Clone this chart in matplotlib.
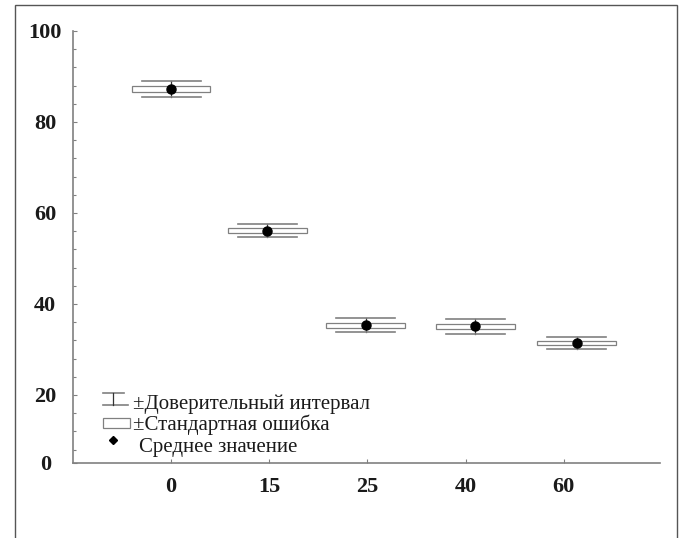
import numpy as np
import matplotlib
matplotlib.use("Agg")
import matplotlib.pyplot as plt
from matplotlib.patches import Rectangle

# data
groups = ["0", "15", "25", "40", "60"]
means = [87.3, 56.1, 35.3, 35.1, 31.4]
std_err = [0.7, 0.6, 0.55, 0.5, 0.5]
conf_int = [1.7, 1.45, 1.55, 1.6, 1.4]
# the last two points sit a bit right of their ticks in the original
x_shift = [0.0, -0.02, -0.02, 0.1, 0.13]

legend_labels = ["\u00b1Доверительный интервал", "\u00b1Стандартная ошибка", "Среднее значение"]

line_gray = "#808080"
text_col = "#1a1a1a"
serif = ["Liberation Serif", "DejaVu Serif"]

fig = plt.figure(figsize=(6.8, 5.38), dpi=100)
ax = fig.add_axes([73 / 680, 1 - 463 / 538, 587 / 680, 432 / 538])

# outer frame round the whole picture
fig.patches.append(Rectangle((15 / 680, -0.1), 662 / 680, 1.1 - 5 / 538,
                             transform=fig.transFigure, fill=False,
                             edgecolor="#555555", linewidth=1.0))

xpos = np.arange(1, len(groups) + 1) + np.array(x_shift)
box_w = 0.8
ci_w = 0.6

for x, m, se, ci in zip(xpos, means, std_err, conf_int):
    # whisker through the mean
    ax.plot([x, x], [m - ci, m + ci], color="#333333", lw=0.9, zorder=2)
    # confidence interval bars
    ax.plot([x - ci_w / 2, x + ci_w / 2], [m + ci, m + ci], color=line_gray, lw=1.2, zorder=2)
    ax.plot([x - ci_w / 2, x + ci_w / 2], [m - ci, m - ci], color=line_gray, lw=1.2, zorder=2)
    # standard error box
    ax.add_patch(Rectangle((x - box_w / 2, m - se), box_w, 2 * se, facecolor="white",
                           edgecolor=line_gray, lw=0.9, zorder=3))
ax.plot(xpos, means, "o", color="black", ms=6.5, zorder=4, linestyle="none")

ax.set_xlim(0, 5.98)
ax.set_ylim(5.05, 100)

ax.set_xticks(np.arange(1, len(groups) + 1))
ax.set_xticklabels(groups)
ax.set_yticks([5.05, 20, 40, 60, 80, 100])
ax.set_yticklabels(["0", "20", "40", "60", "80", "100"])
ax.set_yticks(np.arange(8, 100, 4), minor=True)

for side in ["top", "right"]:
    ax.spines[side].set_visible(False)
for side in ["left", "bottom"]:
    ax.spines[side].set_color(line_gray)
    ax.spines[side].set_linewidth(1.2)

ax.tick_params(axis="both", which="both", direction="in", color=line_gray, width=0.8)
ax.tick_params(axis="y", which="major", length=3, pad=20)
ax.tick_params(axis="y", which="minor", length=2)
ax.tick_params(axis="x", which="major", length=3, pad=10)

for lab in ax.get_yticklabels() + ax.get_xticklabels():
    lab.set_family(serif)
    lab.set_fontweight("bold")
    lab.set_fontsize(16)
    lab.set_color(text_col)
for lab in ax.get_yticklabels():
    lab.set_horizontalalignment("center")

# hand made legend, axes fraction coords
tr = ax.transAxes
ax.plot([0.051, 0.087], [0.162, 0.162], color=line_gray, lw=1.2, transform=tr, clip_on=False)
ax.plot([0.051, 0.094], [0.134, 0.134], color=line_gray, lw=1.2, transform=tr, clip_on=False)
ax.plot([0.068, 0.068], [0.134, 0.162], color="#333333", lw=0.9, transform=tr, clip_on=False)
ax.add_patch(Rectangle((0.051, 0.081), 0.046, 0.023, transform=tr, facecolor="white",
                       edgecolor=line_gray, lw=0.9, clip_on=False))
ax.plot([0.068], [0.053], "D", color="black", ms=4, transform=tr, clip_on=False)

ax.text(0.102, 0.137, legend_labels[0], transform=tr, va="center", ha="left",
        family=serif, fontsize=15, color=text_col)
ax.text(0.102, 0.088, legend_labels[1], transform=tr, va="center", ha="left",
        family=serif, fontsize=15, color=text_col)
ax.text(0.112, 0.037, legend_labels[2], transform=tr, va="center", ha="left",
        family=serif, fontsize=15, color=text_col)

plt.savefig("out.png", dpi=100)
